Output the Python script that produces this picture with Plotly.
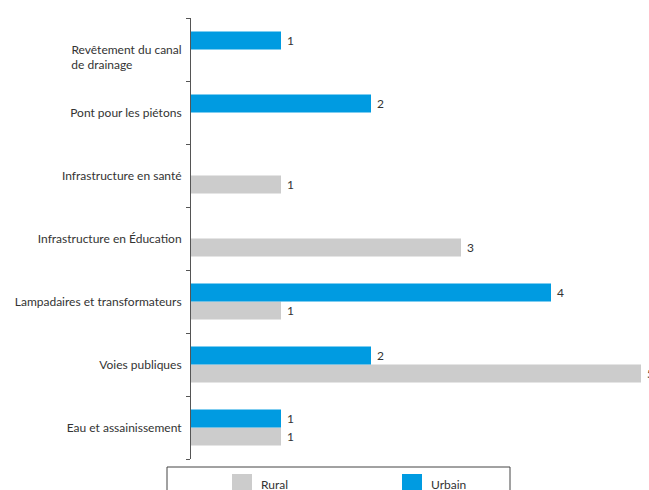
import plotly.graph_objects as go

categories = [
    "Eau et assainissement",
    "Voies publiques",
    "Lampadaires et transformateurs",
    "Infrastructure en Éducation",
    "Infrastructure en santé",
    "Pont pour les piétons",
    "Revêtement du canal de drainage",
]
tick_labels = [
    "Eau et assainissement",
    "Voies publiques",
    "Lampadaires et transformateurs",
    "Infrastructure en Éducation",
    "Infrastructure en santé",
    "Pont pour les piétons",
    "\u00a0<br>Revêtement du canal<br>de drainage" + "\u00a0" * 16,
]
rural = [1, 5, 1, 3, 1, None, None]
urbain = [1, 2, 4, None, None, 2, 1]
series_names = ["Rural", "Urbain"]

GRAY = "#CCCCCC"
BLUE = "#009BE1"
TXT = "#333333"
FONT = "Lato"

W, H = 649, 490
L, R, T, B = 191, 0, 18, 31
PW, PH = W - L - R, H - T - B

fig = go.Figure()
for name, vals, col in [(series_names[0], rural, GRAY), (series_names[1], urbain, BLUE)]:
    fig.add_trace(go.Bar(
        y=categories, x=vals, orientation="h", name=name,
        marker=dict(color=col, line=dict(width=0)),
        text=[("" if v is None else "\u00a0" + str(v)) for v in vals],
        textposition="outside", cliponaxis=False,
        textfont=dict(family=FONT, size=12, color=TXT),
        showlegend=False, hoverinfo="skip",
    ))

fig.update_layout(
    width=W, height=H,
    margin=dict(l=L, r=R, t=T, b=B, autoexpand=False),
    paper_bgcolor="white", plot_bgcolor="white",
    barmode="group", bargap=27/63, bargroupgap=0,
    font=dict(family=FONT, size=12, color=TXT),
    showlegend=False,
)
fig.update_xaxes(range=[0, PW/90], visible=False, showgrid=False, zeroline=False)
fig.update_yaxes(
    categoryorder="array", categoryarray=categories,
    tickmode="array", tickvals=categories, ticktext=tick_labels,
    showline=True, linecolor="#555555", linewidth=1,
    ticks="outside", ticklen=4, tickcolor="#555555", tickson="boundaries",
    showgrid=False, zeroline=False, ticklabelstandoff=6,
    tickfont=dict(family=FONT, size=12, color=TXT),
)

def px(xp):
    return (xp - L) / PW

def py(yp):
    return (H - B - yp) / PH

# legend box
fig.add_shape(type="rect", xref="paper", yref="paper",
              x0=px(167), x1=px(510), y0=py(505), y1=py(467),
              line=dict(color="#444444", width=1), fillcolor="white", layer="above")
for (x0, label), col in zip([(232, series_names[0]), (402, series_names[1])], [GRAY, BLUE]):
    fig.add_shape(type="rect", xref="paper", yref="paper",
                  x0=px(x0), x1=px(x0 + 20), y0=py(492), y1=py(474),
                  line=dict(width=0), fillcolor=col, layer="above")
    fig.add_annotation(xref="paper", yref="paper", x=px(x0 + 27), y=py(484),
                       text=label, showarrow=False, xanchor="left", yanchor="middle",
                       font=dict(family=FONT, size=12, color=TXT))

fig.write_html("out.html", config={"displayModeBar": False},
               post_script="document.body.style.margin='0';document.body.style.overflow='hidden';")
